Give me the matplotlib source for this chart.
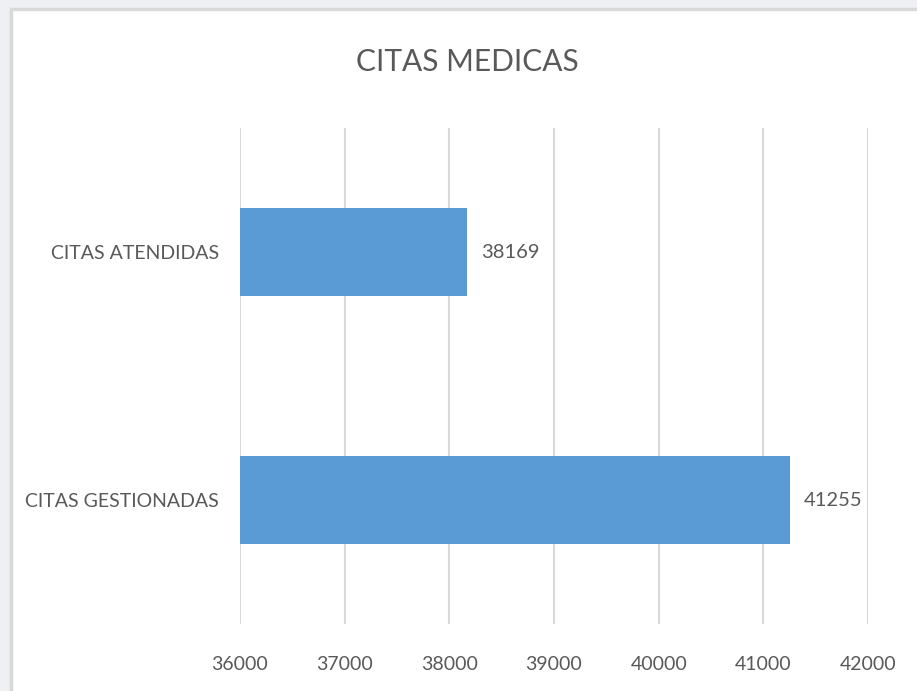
import matplotlib.pyplot as plt
from matplotlib.patches import Rectangle

categories = ['CITAS GESTIONADAS', 'CITAS ATENDIDAS']
values = [41255, 38169]
x_ticks = [36000, 37000, 38000, 39000, 40000, 41000, 42000]

BAR_COLOR = '#5B9BD5'
TEXT_COLOR = '#595959'
GRID_COLOR = '#d9d9d9'
W, H = 917, 691

plt.rcParams['font.family'] = ['Lato', 'DejaVu Sans']

fig = plt.figure(figsize=(W / 100, H / 100), dpi=100)
fig.patch.set_facecolor('#eef0f3')

# white chart area with a light border, on its own background axes
bg = fig.add_axes([0, 0, 1, 1], zorder=0)
bg.set_xlim(0, W)
bg.set_ylim(H, 0)
bg.axis('off')
bg.add_patch(Rectangle((11, 9), W + 20, H + 20, facecolor='white',
                       edgecolor=GRID_COLOR, linewidth=2.5))

ax = fig.add_axes([240 / W, 1 - 624 / H, (868 - 240) / W, (624 - 128) / H], zorder=1)
ax.set_facecolor('none')

ypos = list(range(len(categories)))
bars = ax.barh(ypos, [v - x_ticks[0] for v in values], left=x_ticks[0],
               height=0.355, color=BAR_COLOR, zorder=2)

for b, v in zip(bars, values):
    ax.text(b.get_x() + b.get_width() + 130, b.get_y() + b.get_height() / 2,
            str(v), va='center', ha='left', fontsize=14.5, color=TEXT_COLOR)

ax.set_xlim(x_ticks[0], x_ticks[-1])
ax.set_ylim(-0.5, len(categories) - 0.5)
ax.set_xticks(x_ticks)
ax.set_xticklabels([str(t) for t in x_ticks])
ax.set_yticks(ypos)
ax.set_yticklabels(categories)
ax.xaxis.grid(True, color=GRID_COLOR, linewidth=1.5, zorder=0)
ax.set_axisbelow(True)
ax.tick_params(axis='both', length=0, labelsize=14, colors=TEXT_COLOR)
ax.tick_params(axis='x', pad=23)
ax.tick_params(axis='y', pad=15)
for s in ax.spines.values():
    s.set_visible(False)

fig.text(467 / W, 1 - 62 / H, 'CITAS MEDICAS', ha='center', va='center',
         fontsize=21.5, color=TEXT_COLOR)

fig.savefig('out.png', dpi=100, facecolor=fig.get_facecolor())
